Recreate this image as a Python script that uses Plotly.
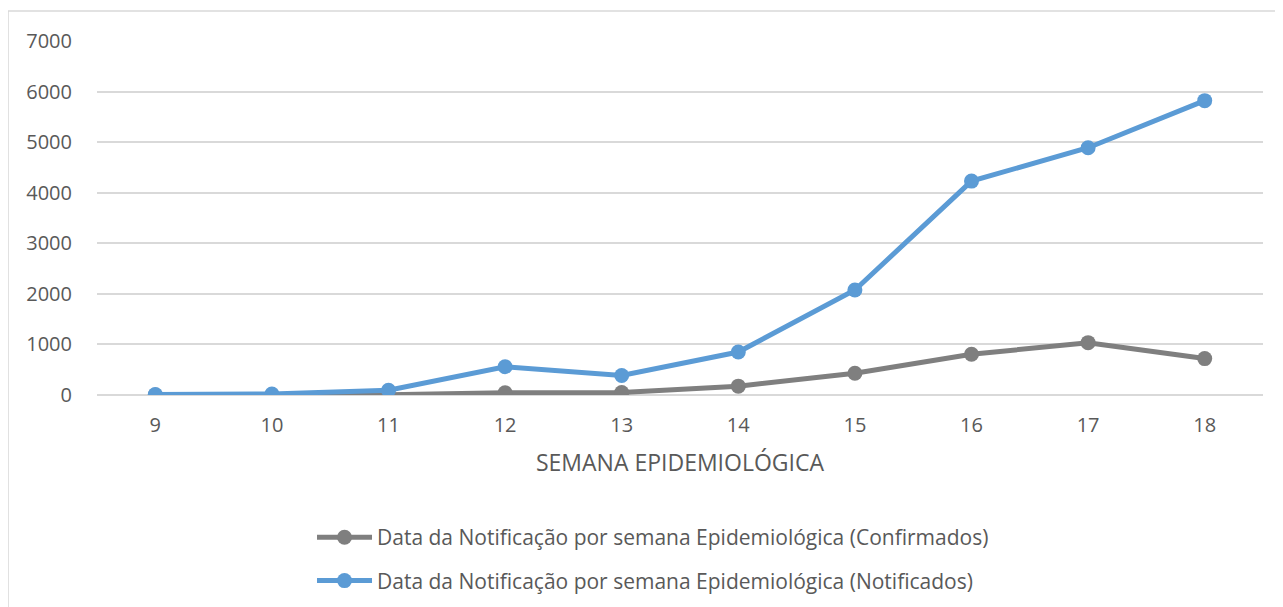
import plotly.graph_objects as go

weeks = ["9", "10", "11", "12", "13", "14", "15", "16", "17", "18"]
confirmados = [0, 0, 5, 45, 50, 175, 430, 805, 1035, 720]
notificados = [10, 20, 95, 560, 385, 850, 2075, 4230, 4890, 5820]
y_ticks = [0, 1000, 2000, 3000, 4000, 5000, 6000, 7000]

name_conf = "Data da Notificação por semana Epidemiológica (Confirmados)"
name_not = "Data da Notificação por semana Epidemiológica (Notificados)"

FONT = "'Open Sans', sans-serif"
TXT = "#595959"

fig = go.Figure()
fig.add_trace(go.Scatter(x=weeks, y=confirmados, name=name_conf, mode="lines+markers",
                         line=dict(color="#7f7f7f", width=5),
                         marker=dict(color="#7f7f7f", size=15), legendgroup="a"))
fig.add_trace(go.Scatter(x=weeks, y=notificados, name=name_not, mode="lines+markers",
                         line=dict(color="#5b9bd5", width=5),
                         marker=dict(color="#5b9bd5", size=15), legendgroup="b"))

fig.update_layout(
    width=1283, height=607,
    margin=dict(l=89, r=28, t=33, b=219.5, autoexpand=False),
    paper_bgcolor="white", plot_bgcolor="white",
    font=dict(family=FONT, size=19, color=TXT),
    showlegend=True,
    legend=dict(x=0.1844, y=-0.345, xanchor="left", yanchor="top",
                orientation="v", tracegroupgap=13, itemwidth=55,
                font=dict(size=21, color=TXT), bgcolor="rgba(0,0,0,0)"),
    xaxis=dict(type="category", range=[-0.5, 9.5], showgrid=False, zeroline=False, showline=False,
               ticks="", automargin=False, ticklabelstandoff=16,
               tickfont=dict(size=20, color=TXT),
               title=dict(text="SEMANA EPIDEMIOLÓGICA", font=dict(size=23, color=TXT), standoff=17)),
    yaxis=dict(range=[0, 7000], tickvals=y_ticks, showgrid=True, gridcolor="#d9d9d9", gridwidth=1.5,
               zeroline=True, zerolinecolor="#d9d9d9", zerolinewidth=1.5, showline=False,
               ticks="", automargin=False, ticklabelstandoff=24, tickfont=dict(size=20, color=TXT)),
    hovermode=False,
)
fig.add_shape(type="rect", xref="paper", yref="paper", x0=-0.0763, x1=1.05, y0=-0.7, y1=1.0846,
              line=dict(color="#d9d9d9", width=1.5), fillcolor="rgba(0,0,0,0)", layer="below")

fig.write_html("out.html")
